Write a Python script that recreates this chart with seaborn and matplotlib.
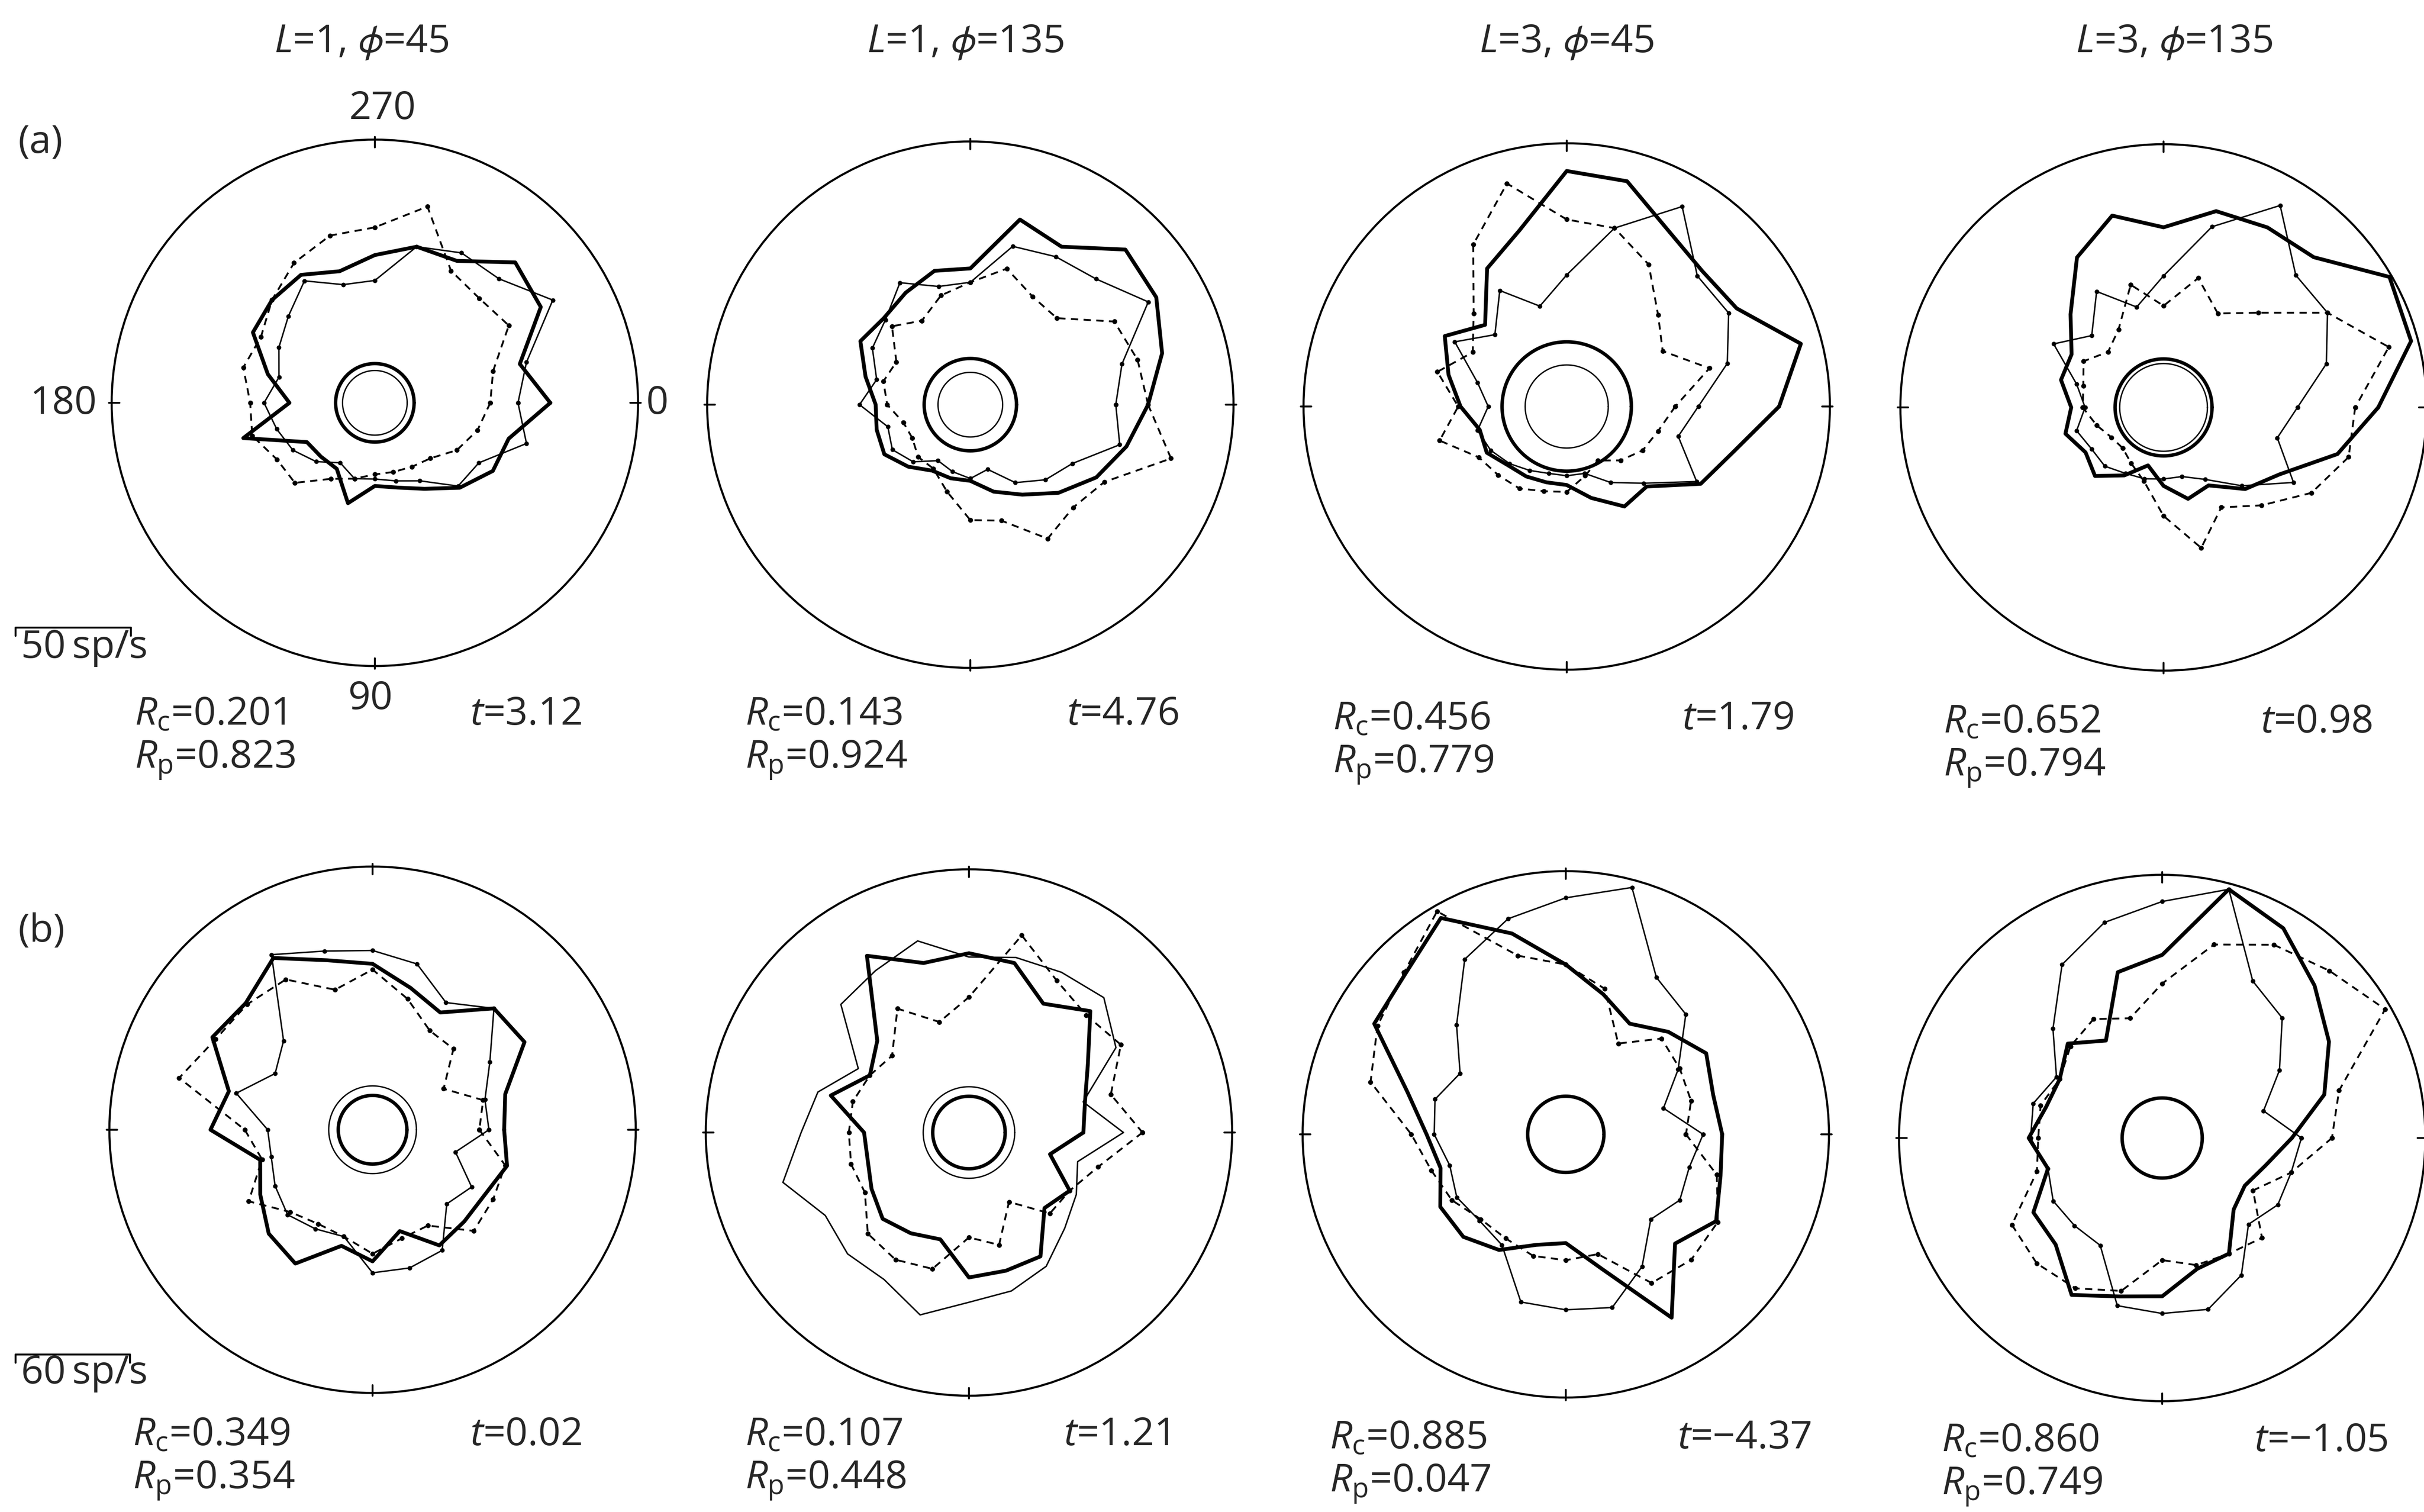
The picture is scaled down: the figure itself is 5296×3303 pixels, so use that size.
import numpy as np
import pandas as pd
import matplotlib
matplotlib.use("Agg")
import matplotlib.pyplot as plt
from matplotlib.lines import Line2D
import seaborn as sns

sns.set_theme(style="white")
plt.rcParams["font.family"] = ["Open Sans", "DejaVu Sans"]
plt.rcParams["mathtext.fontset"] = "custom"
plt.rcParams["mathtext.rm"] = "Open Sans"
plt.rcParams["mathtext.it"] = "Open Sans:italic"
plt.rcParams["mathtext.fallback"] = "stixsans"

# stimulus directions (deg)
directions = np.arange(0, 360, 15)

# ---- row (a): firing rate (sp/s) per direction ----
a1_thick = [76, 60, 59, 52, 43, 38, 36, 45, 33, 33, 34, 59, 37, 48, 61, 63, 64, 59, 64, 70, 71, 86, 83, 65]
a1_thin = [62, 68, 52, 51, 39, 35, 33, 34, 30, 36, 41, 44, 48, 43, 48, 53, 61, 53, 53, 70, 75, 76, 89, 68]
a1_dash = [50, 46, 41, 34, 32, 31, 31, 34, 38, 49, 49, 55, 54, 59, 57, 63, 70, 75, 76, 88, 66, 64, 67, 53]

a2_thick = [77, 70, 63, 54, 45, 39, 33, 33, 33, 38, 43, 42, 41, 47, 55, 53, 56, 60, 59, 83, 79, 95, 93, 86]
a2_thin = [63, 67, 51, 46, 39, 29, 32, 30, 28, 35, 39, 37, 48, 42, 49, 52, 61, 53, 53, 71, 74, 77, 89, 68]
a2_dash = [77, 90, 67, 63, 67, 52, 50, 39, 32, 32, 29, 30, 36, 39, 37, 48, 42, 49, 53, 61, 54, 53, 72, 75]

a3_thick = [92, 75, 67, 49, 50, 41, 34, 34, 35, 36, 40, 39, 46, 53, 61, 50, 69, 79, 102, 101, 88, 83, 85, 105]
a3_thin = [57, 50, 65, 47, 38, 30, 30, 30, 32, 35, 38, 40, 34, 40, 56, 44, 58, 45, 57, 80, 100, 80, 81, 72]
a3_dash = [47, 41, 38, 33, 27, 31, 37, 38, 41, 42, 44, 57, 47, 58, 47, 57, 81, 100, 81, 80, 71, 56, 48, 64]

a4_thick = [93, 78, 58, 50, 39, 41, 34, 26, 34, 42, 39, 44, 40, 46, 46, 57, 75, 86, 78, 88, 90, 92, 113, 111]
a4_thin = [58, 51, 65, 48, 36, 31, 31, 32, 33, 36, 36, 39, 34, 39, 55, 44, 58, 45, 57, 81, 101, 81, 82, 73]
a4_dash = [83, 83, 74, 60, 50, 63, 47, 33, 28, 25, 26, 30, 35, 36, 40, 34, 39, 55, 44, 58, 47, 58, 82, 101]

# ---- row (b) ----
b1_thick = [69, 73, 68, 68, 70, 55, 69, 63, 81, 77, 68, 61, 85, 78, 97, 94, 104, 92, 87, 77, 71, 90, 92, 72]
b1_thin = [61, 45, 60, 55, 73, 75, 75, 58, 60, 63, 59, 55, 55, 74, 59, 66, 106, 97, 94, 90, 77, 90, 71, 61]
b1_dash = [56, 72, 73, 75, 58, 59, 65, 58, 57, 61, 75, 60, 67, 105, 95, 93, 91, 76, 84, 71, 60, 60, 43, 60]

b2_thick = [60, 44, 61, 56, 75, 75, 76, 58, 61, 64, 59, 55, 55, 75, 60, 68, 107, 92, 94, 92, 78, 90, 72, 63]
b2_thin = [81, 59, 65, 71, 81, 86, 89, 99, 89, 90, 87, 101, 88, 82, 67, 95, 98, 104, 92, 95, 97, 100, 89, 62]
b2_dash = [91, 70, 61, 60, 42, 61, 55, 74, 77, 75, 63, 64, 63, 63, 60, 57, 75, 60, 71, 107, 92, 87, 92, 77]

b3_thick = [82, 84, 91, 81, 111, 73, 57, 60, 70, 76, 76, 68, 73, 86, 116, 119, 131, 109, 89, 76, 67, 76, 85, 80]
b3_thin = [72, 67, 69, 63, 80, 94, 92, 91, 67, 64, 66, 63, 69, 71, 64, 81, 106, 117, 124, 134, 95, 89, 68, 53]
b3_dash = [63, 82, 92, 93, 90, 65, 66, 66, 63, 63, 69, 73, 81, 106, 114, 120, 135, 97, 89, 79, 55, 71, 69, 68]

b4_thick = [68, 56, 50, 53, 70, 71, 83, 86, 95, 79, 78, 62, 70, 63, 62, 70, 59, 90, 96, 135, 127, 113, 101, 88]
b4_thin = [73, 70, 70, 64, 83, 93, 92, 91, 65, 65, 66, 62, 69, 70, 64, 81, 105, 117, 124, 135, 95, 89, 71, 55]
b4_dash = [89, 70, 55, 74, 70, 69, 64, 83, 91, 93, 91, 68, 65, 66, 62, 68, 72, 65, 81, 105, 117, 124, 135, 96]

# spontaneous rates (sp/s), drawn as inner circles
spont_thick = [17, 20, 28, 21, 18, 19, 20, 21]
spont_thin = [14, 14, 18, 19, 23, 24, None, None]

# column titles and statistics
col_titles = ["$L$=1, $\\phi$=45", "$L$=1, $\\phi$=135", "$L$=3, $\\phi$=45", "$L$=3, $\\phi$=135"]
rc_vals = ["0.201", "0.143", "0.456", "0.652", "0.349", "0.107", "0.885", "0.860"]
rp_vals = ["0.823", "0.924", "0.779", "0.794", "0.354", "0.448", "0.047", "0.749"]
t_vals = ["3.12", "4.76", "1.79", "0.98", "0.02", "1.21", "\u22124.37", "\u22121.05"]
row_rmax = [114, 138]          # outer ring (sp/s)
scale_bar = [50, 60]           # scale bar (sp/s)

curves = [
    (a1_thick, a1_thin, a1_dash), (a2_thick, a2_thin, a2_dash),
    (a3_thick, a3_thin, a3_dash), (a4_thick, a4_thin, a4_dash),
    (b1_thick, b1_thin, b1_dash), (b2_thick, b2_thin, b2_dash),
    (b3_thick, b3_thin, b3_dash), (b4_thick, b4_thin, b4_dash),
]

# ---- layout (pixels) ----
W, H, DPI = 5296, 3303, 300
R = 575
centers = [(819, 880), (2120, 884), (3423, 888), (4727, 890),
           (814, 2468), (2117, 2474), (3421, 2478), (4724, 2486)]
rc_xy = [(294, 1561), (1628, 1561), (2912, 1571), (4246, 1578),
         (290, 3135), (1628, 3135), (2905, 3142), (4242, 3148)]
t_x = [1027, 2331, 3675, 4939, 1027, 2324, 3665, 4925]
title_x = [790, 2109, 3423, 4750]
FS = 20.5

fig = plt.figure(figsize=(W / DPI, H / DPI), dpi=DPI)
fig.patch.set_facecolor("white")


def fx(px):
    return px / W


def fy(py):
    return 1 - py / H


theta = np.deg2rad(np.append(directions, 360))
ring = np.linspace(0, 2 * np.pi, 361)

for i, (thick, thin, dash) in enumerate(curves):
    row = i // 4
    rmax = row_rmax[row]
    cx, cy = centers[i]
    ax = fig.add_axes([fx(cx - R), fy(cy + R), 2 * R / W, 2 * R / H], projection="polar")
    ax.set_theta_zero_location("E")
    ax.set_theta_direction(-1)
    ax.grid(False)
    ax.set_facecolor("none")
    ax.spines["polar"].set_linewidth(1.1)
    ax.spines["polar"].set_color("black")

    df = pd.DataFrame({
        "theta": np.concatenate([theta] * 3),
        "rate": np.concatenate([np.append(c, c[0]) for c in (thick, thin, dash)]),
        "curve": np.repeat(["thick", "thin", "dash"], len(theta)),
    })

    # spontaneous rate rings
    ax.plot(ring, np.full(ring.shape, spont_thick[i]), color="black", lw=1.8)
    if spont_thin[i] is not None:
        ax.plot(ring, np.full(ring.shape, spont_thin[i]), color="black", lw=0.7)

    thin_marker = None if i == 5 else "o"
    sns.lineplot(data=df[df.curve == "thin"], x="theta", y="rate", ax=ax, sort=False,
                 estimator=None, color="black", linewidth=0.75, marker=thin_marker,
                 markersize=2.4, markeredgewidth=0, legend=False)
    sns.lineplot(data=df[df.curve == "dash"], x="theta", y="rate", ax=ax, sort=False,
                 estimator=None, color="black", linewidth=0.95, linestyle=(0, (4, 3)),
                 marker="o", markersize=2.6, markeredgewidth=0, legend=False)
    sns.lineplot(data=df[df.curve == "thick"], x="theta", y="rate", ax=ax, sort=False,
                 estimator=None, color="black", linewidth=2.0, legend=False)

    ax.set_ylim(0, rmax)
    ax.set_yticks([])
    ax.set_xticks([])
    ax.set_xlabel("")
    ax.set_ylabel("")
    for ang in (0, 90, 180, 270):
        a = np.deg2rad(ang)
        ax.plot([a, a], [rmax * 0.97, rmax * 1.01], color="black", lw=1.0, clip_on=False)

    # statistics
    rx, ry = rc_xy[i]
    fig.text(fx(rx), fy(ry), "$R_{\\mathrm{c}}$=" + rc_vals[i], fontsize=FS, va="center", ha="left")
    fig.text(fx(rx), fy(ry + 100), "$R_{\\mathrm{p}}$=" + rp_vals[i], fontsize=FS, va="center", ha="left")
    fig.text(fx(t_x[i]), fy(ry), "$t$=" + t_vals[i], fontsize=FS, va="center", ha="left")

# column titles
for j, title in enumerate(col_titles):
    fig.text(fx(title_x[j]), fy(92), title, fontsize=FS, ha="center", va="center")

# row labels
fig.text(fx(40), fy(312), "(a)", fontsize=FS, ha="left", va="center")
fig.text(fx(40), fy(2035), "(b)", fontsize=FS, ha="left", va="center")

# direction labels on the first panel
fig.text(fx(836), fy(238), "270", fontsize=FS, ha="center", va="center")
fig.text(fx(212), fy(882), "180", fontsize=FS, ha="right", va="center")
fig.text(fx(1412), fy(882), "0", fontsize=FS, ha="left", va="center")
fig.text(fx(810), fy(1527), "90", fontsize=FS, ha="center", va="center")

# scale bars
for row, (bar_y, txt_y) in enumerate([(1371, 1415), (2959, 3000)]):
    length = scale_bar[row] / row_rmax[row] * R
    x0 = 34
    x1 = x0 + length
    fig.add_artist(Line2D([fx(x0), fx(x1)], [fy(bar_y), fy(bar_y)], color="black", lw=1.0))
    for xe in (x0, x1):
        fig.add_artist(Line2D([fx(xe), fx(xe)], [fy(bar_y), fy(bar_y + 18)], color="black", lw=1.0))
    fig.text(fx(x0 + 12), fy(txt_y), f"{scale_bar[row]}\u2009sp/s", fontsize=FS, ha="left", va="center")

fig.savefig("out.png", dpi=DPI, facecolor="white")
